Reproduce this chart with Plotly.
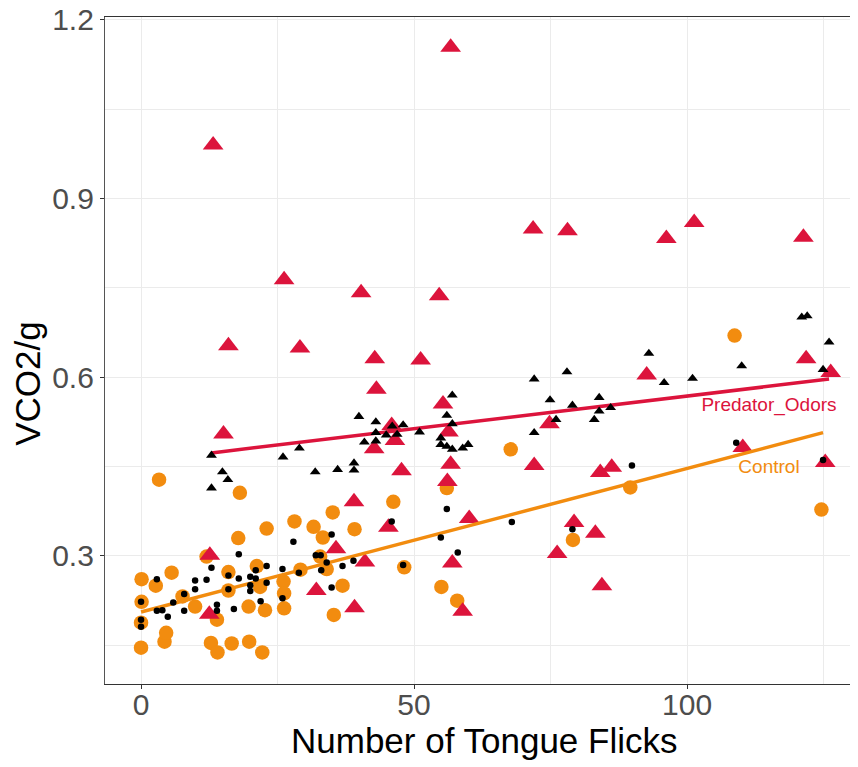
import plotly.graph_objects as go

# ---------------- data ----------------
control_x = [0, 0, 0.1, 0.1, 2.7, 3.3, 4.3, 4.6, 5.6, 7.6, 9.9, 12.0, 12.8, 13.9, 14.0,
             16.0, 16.0, 16.6, 17.8, 18.1, 19.7, 19.8, 21.2, 21.8, 22.2, 22.7, 23.0,
             26.1, 26.2, 26.2, 28.1, 29.2, 31.6, 32.8, 33.3, 34.0, 35.1, 35.3, 36.9,
             39.1, 46.2, 48.2, 55.0, 56.0, 57.9, 67.7, 79.1, 89.6, 108.7, 124.6]
control_y = [0.146, 0.188, 0.223, 0.261, 0.250, 0.428, 0.156, 0.171, 0.272, 0.232, 0.215,
             0.299, 0.154, 0.193, 0.138, 0.273, 0.242, 0.153, 0.330, 0.406, 0.215, 0.156,
             0.283, 0.248, 0.138, 0.209, 0.346, 0.257, 0.237, 0.212, 0.358, 0.277, 0.349,
             0.299, 0.331, 0.278, 0.373, 0.201, 0.250, 0.345, 0.391, 0.281, 0.248, 0.414,
             0.225, 0.479, 0.327, 0.415, 0.670, 0.378]

predator_x = [13.2, 56.7, 71.8, 78.1, 96.2, 101.3, 121.3, 26.2, 40.3, 54.6, 29.1, 16.0,
              42.8, 51.2, 43.1, 55.3, 15.1, 45.9, 42.7, 46.5, 56.3, 56.7, 47.7, 56.1,
              39.0, 45.3, 60.1, 35.7, 41.0, 57.0, 32.1, 39.1, 58.9, 92.6, 74.8, 72.0,
              79.3, 83.2, 76.2, 84.4, 84.1, 86.2, 121.8, 126.3, 125.3, 110.2, 12.6, 12.5]
predator_y = [0.990, 1.154, 0.849, 0.846, 0.833, 0.860, 0.835, 0.764, 0.742, 0.737, 0.649,
              0.653, 0.631, 0.629, 0.580, 0.555, 0.505, 0.519, 0.480, 0.494, 0.508, 0.454,
              0.443, 0.425, 0.391, 0.348, 0.363, 0.312, 0.290, 0.288, 0.242, 0.213, 0.207,
              0.604, 0.522, 0.452, 0.356, 0.338, 0.304, 0.250, 0.440, 0.449, 0.631, 0.608,
              0.457, 0.482, 0.301, 0.202]

control_pred_x = [0, 0, 0, 2.9, 2.9, 3.9, 4.9, 5.9, 7.9, 7.9, 9.9, 9.9, 12.0, 12.9, 13.9,
                  13.9, 16.0, 16.0, 17.0, 17.9, 17.9, 20.0, 20.0, 20.0, 21.0, 21.0, 21.9,
                  23.0, 23.0, 25.9, 25.9, 27.9, 28.9, 32.0, 32.9, 33.0, 34.0, 34.9, 34.9,
                  36.9, 38.9, 45.9, 48.0, 54.9, 56.0, 58.0, 67.9, 79.0, 89.9, 109.0, 124.9]
control_pred_y = [0.223, 0.193, 0.181, 0.261, 0.208, 0.209, 0.198, 0.222, 0.236, 0.208,
                  0.259, 0.244, 0.260, 0.280, 0.218, 0.208, 0.267, 0.244, 0.211, 0.303,
                  0.262, 0.265, 0.251, 0.241, 0.276, 0.262, 0.224, 0.283, 0.255, 0.278,
                  0.229, 0.324, 0.272, 0.301, 0.301, 0.276, 0.289, 0.336, 0.247, 0.283,
                  0.292, 0.358, 0.285, 0.331, 0.379, 0.306, 0.357, 0.345, 0.452, 0.490,
                  0.461]

predator_pred_x = [12.9, 14.9, 15.9, 12.9, 26.0, 29.0, 31.9, 36.0, 39.0, 39.0, 39.9, 43.0,
                   43.0, 40.9, 43.0, 44.9, 46.0, 46.9, 48.0, 51.0, 57.0, 56.0, 57.0, 54.9,
                   54.9, 56.0, 57.0, 58.9, 59.9, 72.0, 78.0, 74.9, 79.0, 83.9, 83.9, 86.0,
                   83.0, 76.0, 72.0, 93.0, 95.8, 101.0, 110.0, 121.0, 122.0, 126.0, 124.9]
predator_pred_y = [0.469, 0.441, 0.428, 0.414, 0.466, 0.481, 0.441, 0.445, 0.456, 0.444,
                   0.534, 0.525, 0.507, 0.491, 0.493, 0.503, 0.518, 0.504, 0.520, 0.508,
                   0.570, 0.536, 0.522, 0.498, 0.487, 0.484, 0.479, 0.481, 0.487, 0.597,
                   0.609, 0.562, 0.553, 0.566, 0.543, 0.549, 0.529, 0.529, 0.507, 0.640,
                   0.591, 0.598, 0.619, 0.701, 0.703, 0.659, 0.613]

control_fit_x = [0, 124.9]
control_fit_y = [0.206, 0.507]
predator_fit_x = [12.9, 126.0]
predator_fit_y = [0.473, 0.597]

label_text = ["Predator_Odors", "Control"]
label_x = [115.0, 115.0]
label_y = [0.552, 0.448]

x_ticks = [0, 50, 100]
y_ticks = [0.3, 0.6, 0.9, 1.2]
x_title = "Number of Tongue Flicks"
y_title = "VCO2/g"

ORANGE = "#F28C0F"
CRIMSON = "#DC143C"
FONT = "Liberation Sans, Arial, sans-serif"

fig = go.Figure()
fig.add_trace(go.Scatter(x=control_x, y=control_y, mode="markers",
                         marker=dict(symbol="circle", size=14.5, color=ORANGE),
                         showlegend=False))
fig.add_trace(go.Scatter(x=predator_x, y=predator_y, mode="markers",
                         marker=dict(symbol="triangle-up", size=18, color=CRIMSON),
                         showlegend=False))
fig.add_trace(go.Scatter(x=control_fit_x, y=control_fit_y, mode="lines",
                         line=dict(color=ORANGE, width=3.5), showlegend=False))
fig.add_trace(go.Scatter(x=predator_fit_x, y=predator_fit_y, mode="lines",
                         line=dict(color=CRIMSON, width=3.5), showlegend=False))
fig.add_trace(go.Scatter(x=control_pred_x, y=control_pred_y, mode="markers",
                         marker=dict(symbol="circle", size=6.5, color="black"),
                         showlegend=False))
fig.add_trace(go.Scatter(x=predator_pred_x, y=predator_pred_y, mode="markers",
                         marker=dict(symbol="triangle-up", size=9.5, color="black"),
                         showlegend=False))
fig.add_trace(go.Scatter(x=label_x, y=label_y, mode="text", text=label_text,
                         textfont=dict(color=[CRIMSON, ORANGE], size=19, family=FONT),
                         textposition="middle center", showlegend=False))

# the page body has an 8px margin, so the figure is 8px smaller than the window
fig.update_layout(
    width=850, height=759,
    margin=dict(l=97, r=0, t=9, b=83),
    paper_bgcolor="white", plot_bgcolor="white",
    font=dict(family=FONT, color="black"),
    xaxis=dict(range=[-6.6, 131.3], tickvals=x_ticks, ticktext=[str(v) for v in x_ticks],
               automargin=False, ticklabeloverflow="allow", ticklabelstandoff=-10,
               showgrid=True, gridcolor="#EBEBEB", gridwidth=1.4,
               minor=dict(dtick=25, tick0=25, showgrid=True, gridcolor="#EBEBEB", gridwidth=0.8),
               showline=True, linecolor="#333333", linewidth=1.3, mirror=True,
               ticks="outside", ticklen=4, tickcolor="#333333", tickwidth=1.2,
               tickfont=dict(size=30, color="#4D4D4D"), zeroline=False),
    yaxis=dict(range=[0.085, 1.205], tickvals=y_ticks, ticktext=["0.3", "0.6", "0.9", "1.2"],
               automargin=False, ticklabeloverflow="allow",
               showgrid=True, gridcolor="#EBEBEB", gridwidth=1.4,
               minor=dict(dtick=0.3, tick0=0.15, showgrid=True, gridcolor="#EBEBEB", gridwidth=0.8),
               showline=True, linecolor="#555555", linewidth=1.3, mirror=False,
               ticks="outside", ticklen=4, tickcolor="#333333", tickwidth=1.2,
               tickfont=dict(size=30, color="#4D4D4D"), zeroline=False),
    annotations=[
        dict(text=x_title, xref="paper", yref="paper", x=0.503, y=-0.085,
             xanchor="center", yanchor="middle", showarrow=False,
             font=dict(size=35, color="black", family=FONT)),
        dict(text=y_title, xref="paper", yref="paper", x=-0.104, y=0.451,
             xanchor="center", yanchor="middle", showarrow=False, textangle=-90,
             font=dict(size=35, color="black", family=FONT)),
    ],
)

fig.write_html("out.html")
